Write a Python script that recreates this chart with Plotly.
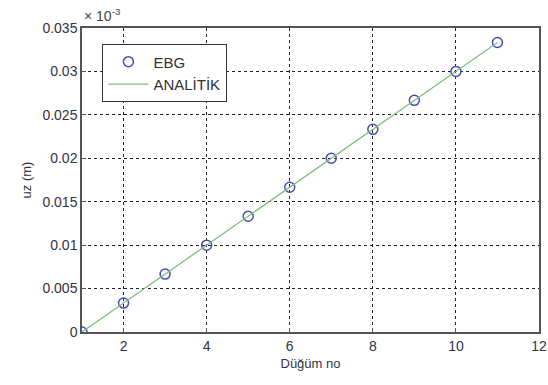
import plotly.graph_objects as go

nodes = [1, 2, 3, 4, 5, 6, 7, 8, 9, 10, 11]
ebg = [0.0, 0.00333, 0.00667, 0.0100, 0.01333, 0.01667, 0.0200, 0.02333, 0.02667, 0.0300, 0.03333]
analitik = [0.0, 0.00333, 0.00667, 0.0100, 0.01333, 0.01667, 0.0200, 0.02333, 0.02667, 0.0300, 0.03333]
x_ticks = [2, 4, 6, 8, 10, 12]
y_ticks = [0, 0.005, 0.01, 0.015, 0.02, 0.025, 0.03, 0.035]
y_tick_labels = ["0", "0.005", "0.01", "0.015", "0.02", "0.025", "0.03", "0.035"]

fig = go.Figure()
fig.add_trace(go.Scatter(x=nodes, y=ebg, mode="markers", name="EBG",
                         marker=dict(symbol="circle-open", size=10, color="#4a4ab8", line=dict(width=1.5))))
fig.add_trace(go.Scatter(x=nodes, y=analitik, mode="lines", name="ANALİTİK",
                         line=dict(color="#7fbf7f", width=1.3)))

fam = "Liberation Sans, Arial, sans-serif"
fig.update_layout(
    width=548, height=385,
    margin=dict(l=82, r=9, t=28, b=53),
    paper_bgcolor="white", plot_bgcolor="white",
    font=dict(family=fam, size=14, color="#333345"),
    showlegend=True,
    legend=dict(x=0.044, y=0.947, xanchor="left", yanchor="top",
                bordercolor="#333", borderwidth=1.3, bgcolor="white",
                font=dict(family=fam, size=15, color="#333"),
                tracegroupgap=0, itemwidth=40),
    xaxis=dict(range=[1, 12], tickvals=x_ticks, showgrid=True, automargin=False,
               gridcolor="#222", griddash="3px,3px", gridwidth=1.2,
               showline=True, linecolor="#555", linewidth=1.5, mirror=True,
               ticks="inside", ticklen=4, tickcolor="#555", zeroline=False,
               title=dict(text="Düğüm no", standoff=6, font=dict(size=13))),
    yaxis=dict(range=[0, 0.035], tickvals=y_ticks, ticktext=y_tick_labels, showgrid=True, automargin=False,
               gridcolor="#222", griddash="3px,3px", gridwidth=1.2,
               showline=True, linecolor="#555", linewidth=1.5, mirror=True,
               ticks="inside", ticklen=4, tickcolor="#555", zeroline=False,
               title=dict(text="uz (m)", standoff=8, font=dict(size=13))),
)
fig.add_annotation(text="× 10<sup>-3</sup>", xref="paper", yref="paper", x=0.0, y=1.0,
                   xanchor="left", yanchor="bottom", showarrow=False, yshift=2,
                   font=dict(family=fam, size=14, color="#444"))
fig.write_html("out.html", config={"displayModeBar": False},
               post_script="document.body.style.margin='0';")
